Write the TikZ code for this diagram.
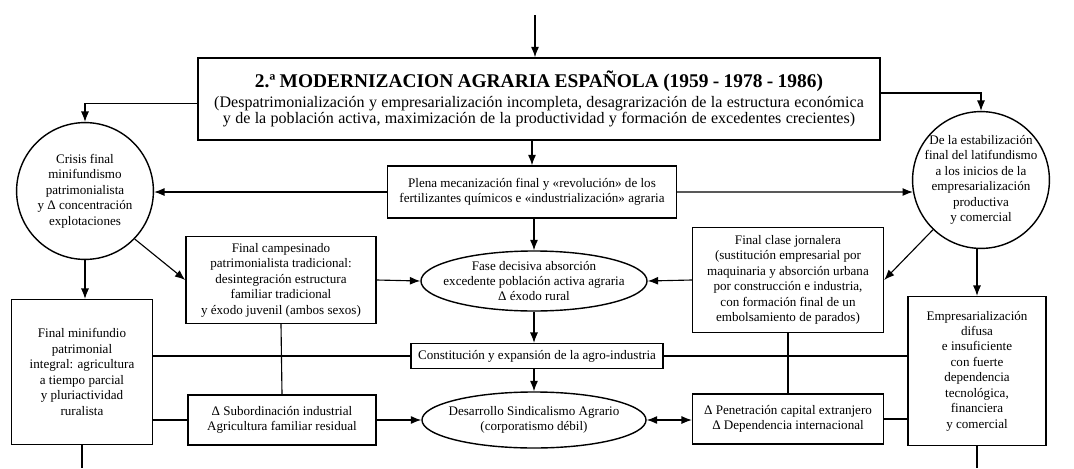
\documentclass[tikz,border=0pt]{standalone}
\usepackage{fontspec}
\setmainfont{Liberation Serif}
\usepackage{tikz}
\usetikzlibrary{positioning, arrows.meta, shapes.geometric}
\newcommand\txt{\fontsize{9.3}{11}\selectfont}
\newcommand\ttl{\fontsize{13.8}{15}\selectfont\bfseries}
\newcommand\subt{\fontsize{11.4}{12.2}\selectfont}
\tikzset{
    tip/.tip={Latex[length=2.6mm,width=2mm]}, % narrow filled heads
}

\begin{document}
\begin{tikzpicture}[x=0.025cm,y=-0.025cm]
        \tikzset{
            box/.style={draw,line width=1pt,align=center,font=\txt,inner sep=1pt},
            circ/.style={draw,circle,line width=1pt,align=center,font=\txt,minimum size=3.42cm,inner sep=-3mm},
            oval/.style={draw,ellipse,line width=1pt,align=center,font=\txt,inner sep=-4mm},
            %
            ln/.style={line width=.8pt},
            arr/.style={ln,-tip},
            darr/.style={ln,tip-tip},
        }
        \useasboundingbox (0,0) rectangle (1074,468);

        \node[box,minimum width=17.05cm,minimum height=2.05cm,text width=16.9cm] (main) at (539,99)
            {{\ttl 2.ª MODERNIZACION AGRARIA ESPAÑOLA (1959 - 1978 - 1986)}\\[2pt]
             {\subt (Despatrimonialización y empresarialización incompleta, desagrarización de la estructura económica\\
             y de la población activa, maximización de la productividad y formación de excedentes crecientes)}};
        \node[circ] (crisis) at (85,191) {Crisis final\\minifundismo\\patrimonialista\\y Δ concentración\\explotaciones};
        \node[circ] (estab) at (981,180) {De la estabilización\\final del latifundismo\\a los inicios de la\\empresarialización\\productiva\\y comercial};
        \node[box,minimum width=7.22cm,minimum height=1.3cm] (plena) at (532,192)
            {Plena mecanización final y «revolución» de los\\fertilizantes químicos e «industrialización» agraria};
        \node[box,minimum width=4.75cm,minimum height=2.17cm] (campes) at (281,280)
            {Final campesinado\\patrimonialista tradicional:\\desintegración estructura\\familiar tradicional\\y éxodo juvenil (ambos sexos)};
        \node[oval,minimum width=5.65cm,minimum height=1.5cm] (fase) at (534,281)
            {Fase decisiva absorción\\excedente población activa agraria\\Δ éxodo rural};
        \node[box,minimum width=4.77cm,minimum height=2.62cm] (jorn) at (788,280)
            {Final clase jornalera\\(sustitución empresarial por\\maquinaria y absorción urbana\\por construcción e industria,\\con formación final de un\\embolsamiento de parados)};
        \node[box,minimum width=3.52cm,minimum height=3.62cm] (minif) at (82,372)
            {Final minifundio\\patrimonial\\integral: agricultura\\a tiempo parcial\\y pluriactividad\\ruralista};
        \node[box,minimum width=6.3cm,minimum height=0.62cm] (const) at (537,356)
            {Constitución y expansión de la agro-industria};
        \node[box,minimum width=4.7cm,minimum height=1.25cm] (subord) at (282,420)
            {Δ Subordinación industrial\\Agricultura familiar residual};
        \node[oval,minimum width=5.6cm,minimum height=1.4cm] (desar) at (534,420)
            {Desarrollo Sindicalismo Agrario\\(corporatismo débil)};
        \node[box,minimum width=4.77cm,minimum height=1.25cm] (penet) at (788,419)
            {Δ Penetración capital extranjero\\Δ Dependencia internacional};
        \node[box,minimum width=3.45cm,minimum height=3.72cm] (empres) at (977,371)
            {Empresarialización\\difusa\\e insuficiente\\con fuerte\\dependencia\\tecnológica,\\financiera\\y comercial};

        \coordinate (top) at (535,15);
        \coordinate (lowL) at (82,468);
        \coordinate (lowR) at (977,468);

        \draw[arr] (top) -- (top |- main.north);
        \draw[arr] ([yshift=-0.12cm]main.west) -| (crisis.north);
        \draw[arr] ([yshift=0.15cm]main.east) -| (estab.north);
        \draw[arr] (plena.north |- main.south) -- (plena.north);
        \draw[arr] (plena.west) -- (plena.west -| crisis.east);
        \draw[arr] (plena.east) -- (estab.190);
        \draw[arr] (fase.north |- plena.south) -- (fase.north);
        \draw[arr] (crisis.-44) -- (campes.west);
        \draw[arr] (estab.-134) -- (jorn.east);
        \draw[arr] (campes.east) -- (fase.west);
        \draw[arr] (jorn.west) -- (fase.east);
        \draw[arr] (fase.south) -- (fase.south |- const.north);
        \draw[arr] (desar.north |- const.south) -- (desar.north);
        \draw[arr] (crisis.south) -- (crisis.south |- minif.north);
        \draw[arr] (empres.north |- estab.south) -- (empres.north);
        \draw[ln] (minif.south) -- (lowL);
        \draw[ln] (empres.south) -- (lowR);
        %
        \draw[ln] (minif.east |- const) -- (const.west);
        \draw[ln] (const.east) -- (const.east -| empres.west);
        \draw[ln] (campes.south) -- (subord.north);
        \draw[ln] (jorn.south) -- (penet.north);
        \draw[ln] (minif.east |- subord) -- (subord.west);
        \draw[arr] (subord.east) -- (desar.west);
        \draw[darr] (desar.east) -- (desar.east -| penet.west);
        \draw[ln] (penet.east) -- (penet.east -| empres.west);
    \end{tikzpicture}
\end{document}
